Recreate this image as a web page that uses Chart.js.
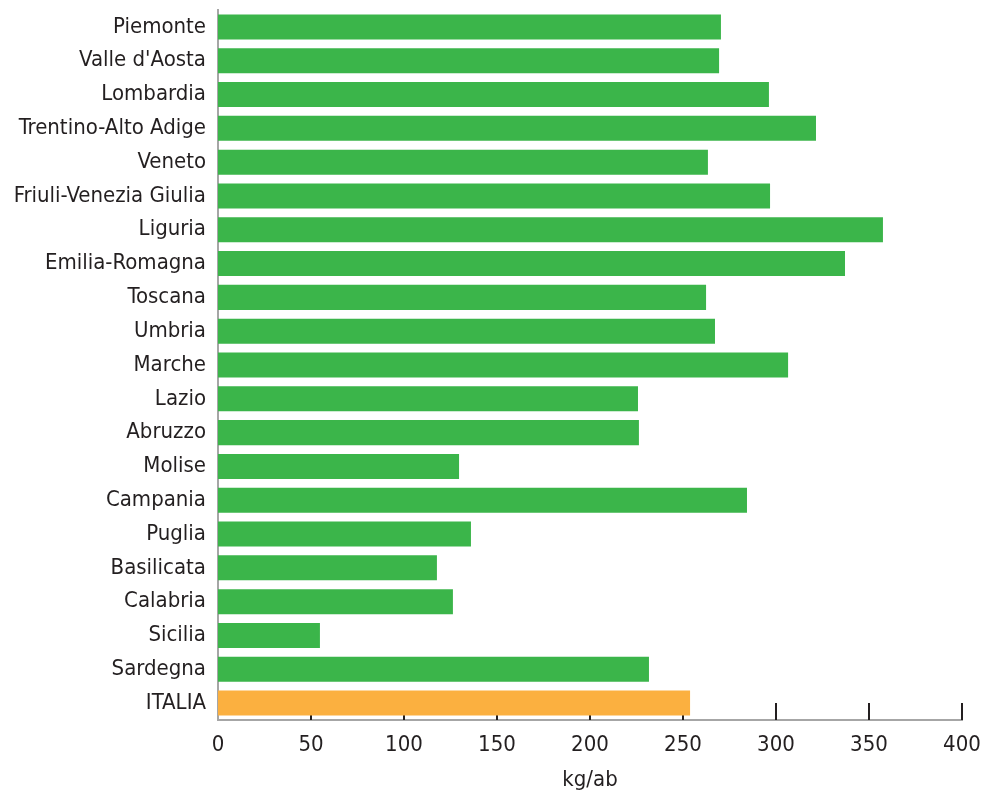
<!DOCTYPE html>
<html>
<head>
<meta charset="utf-8">
<script src="https://cdn.jsdelivr.net/npm/chart.js@4"></script>
<style>
html,body{margin:0;padding:0;background:#fff;}
#wrap{width:983px;height:795px;}
</style>
</head>
<body>
<div id="wrap"><canvas id="c" width="983" height="795"></canvas></div>
<script>
const categories = ["Piemonte","Valle d'Aosta","Lombardia","Trentino-Alto Adige","Veneto","Friuli-Venezia Giulia","Liguria","Emilia-Romagna","Toscana","Umbria","Marche","Lazio","Abruzzo","Molise","Campania","Puglia","Basilicata","Calabria","Sicilia","Sardegna","ITALIA"];
const values = [270.4,269.4,296.2,321.5,263.4,296.8,357.5,337.1,262.4,267.2,306.5,225.8,226.3,129.6,284.4,136.0,117.7,126.3,54.8,231.7,253.8];
const xTicks = [0,50,100,150,200,250,300,350,400];
const axisTitle = "kg/ab";
const GREEN = "#3bb54a", ORANGE = "#fbb040";
const barColors = categories.map(c => c === "ITALIA" ? ORANGE : GREEN);
const FONT = "'DejaVu Sans Condensed','Liberation Sans Narrow',sans-serif";
const TEXT = "#231f20";

const innerTicks = {
  id: 'innerTicks',
  beforeDatasetsDraw(chart) {
    const x = chart.scales.x, ctx = chart.ctx, b = chart.chartArea.bottom;
    ctx.save();
    ctx.strokeStyle = TEXT;
    ctx.lineWidth = 2;
    x.ticks.forEach(t => {
      if (t.value === 0) return;
      const px = Math.round(x.getPixelForValue(t.value));
      ctx.beginPath();
      ctx.moveTo(px, b - 17);
      ctx.lineTo(px, b);
      ctx.stroke();
    });
    ctx.restore();
  }
};

new Chart(document.getElementById('c'), {
  type: 'bar',
  data: {
    labels: categories,
    datasets: [{ data: values, backgroundColor: barColors, borderWidth: 0, barPercentage: 0.74, categoryPercentage: 1 }]
  },
  options: {
    indexAxis: 'y',
    responsive: false,
    animation: false,
    layout: { padding: { top: 10, right: 21, left: 0, bottom: 0 } },
    plugins: { legend: { display: false }, tooltip: { enabled: false } },
    scales: {
      x: {
        min: 0, max: 400,
        afterBuildTicks(s) { s.ticks = xTicks.map(v => ({ value: v })); },
        afterFit(s) { s.height = 75; s.paddingLeft = 0; s.paddingRight = 0; },
        grid: { display: false, drawTicks: false },
        border: { display: true, color: '#a6a6a6', width: 2 },
        ticks: { color: TEXT, font: { family: FONT, size: 22 }, padding: 12, maxRotation: 0 },
        title: { display: true, text: axisTitle, color: TEXT, font: { family: FONT, size: 22 }, padding: { top: 4, bottom: 2 } }
      },
      y: {
        afterFit(s) { s.width = 218; s.paddingTop = 0; s.paddingBottom = 0; },
        grid: { display: false, drawTicks: false },
        border: { display: true, color: '#a6a6a6', width: 2 },
        ticks: { color: TEXT, font: { family: FONT, size: 22 }, padding: 12, autoSkip: false }
      }
    }
  },
  plugins: [innerTicks]
});
</script>
</body>
</html>
